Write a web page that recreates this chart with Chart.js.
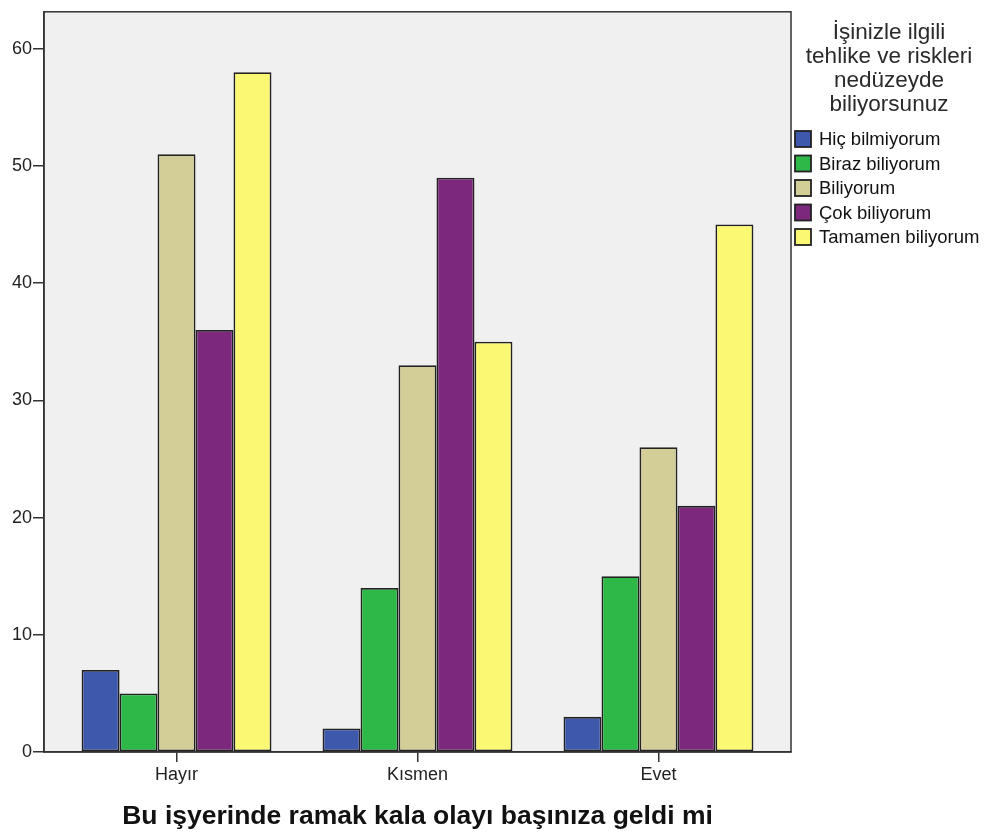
<!DOCTYPE html>
<html>
<head>
<meta charset="utf-8">
<script src="https://cdn.jsdelivr.net/npm/chart.js@4.4.1/dist/chart.umd.min.js"></script>
<style>
  html, body { margin: 0; padding: 0; background: #fff; }
  #chart { display: block; }
</style>
</head>
<body>
<canvas id="chart" width="988" height="836"></canvas>
<script>
/* grouped bar chart — SPSS style */

const categories  = ['Hayır', 'Kısmen', 'Evet'];
const seriesNames = ['Hiç bilmiyorum', 'Biraz biliyorum', 'Biliyorum', 'Çok biliyorum', 'Tamamen biliyorum'];
const hicBilmiyorum     = [7, 2, 3];
const birazBiliyorum    = [5, 14, 15];
const biliyorum         = [51, 33, 26];
const cokBiliyorum      = [36, 49, 21];
const tamamenBiliyorum  = [58, 35, 45];
const yTicks = [0, 10, 20, 30, 40, 50, 60];

const legendTitle = ['İşinizle ilgili', 'tehlike ve riskleri', 'nedüzeyde', 'biliyorsunuz'];
const xTitle = 'Bu işyerinde ramak kala olayı başınıza geldi mi';

const colors = ['#3e58ac', '#2eb848', '#d3ce97', '#7c287d', '#fbf873'];
const allSeries = [hicBilmiyorum, birazBiliyorum, biliyorum, cokBiliyorum, tamamenBiliyorum];
const FONT = '"Liberation Sans", Arial, sans-serif';

const datasets = allSeries.map((vals, s) => ({
  label: seriesNames[s],
  data: vals.map((v, i) => ({ x: i, y: v })),
  backgroundColor: colors[s],
  borderColor: '#222',
  borderWidth: 1.8,
  borderSkipped: false,
  categoryPercentage: 0.788,
  barPercentage: 1,
}));

const frame = {
  id: 'frame',
  beforeDraw(chart) {
    const { ctx, chartArea: a } = chart;
    ctx.save();
    ctx.fillStyle = '#f0f0f0';
    ctx.fillRect(a.left, a.top, a.right - a.left, a.bottom - a.top);
    ctx.restore();
  },
  afterDraw(chart) {
    const { ctx, chartArea: a } = chart;
    ctx.save();
    ctx.strokeStyle = '#333';
    ctx.lineWidth = 1.5;
    ctx.strokeRect(a.left, a.top, a.right - a.left, a.bottom - a.top);

    // legend, drawn by hand to sit right of the frame
    ctx.fillStyle = '#2a2a2a';
    ctx.font = '22.5px ' + FONT;
    ctx.textAlign = 'center';
    ctx.textBaseline = 'middle';
    legendTitle.forEach((t, i) => ctx.fillText(t, 889, 33 + i * 24));

    ctx.font = '18.5px ' + FONT;
    ctx.textAlign = 'left';
    chart.data.datasets.forEach((ds, i) => {
      const y = 139 + i * 24.5;
      ctx.fillStyle = ds.backgroundColor;
      ctx.fillRect(795, y - 8, 16, 16);
      ctx.strokeStyle = '#222';
      ctx.lineWidth = 1.8;
      ctx.strokeRect(795, y - 8, 16, 16);
      ctx.fillStyle = '#111';
      ctx.fillText(ds.label, 819, y + 1);
    });
    ctx.restore();
  },
};

new Chart(document.getElementById('chart'), {
  type: 'bar',
  data: { datasets },
  plugins: [frame],
  options: {
    responsive: false,
    animation: false,
    layout: { padding: { top: 10, right: 197, left: 0, bottom: 0 } },
    plugins: { legend: { display: false }, tooltip: { enabled: false } },
    scales: {
      x: {
        type: 'linear',
        offset: false,
        min: -0.55, max: 2.55,
        afterBuildTicks: s => { s.ticks = categories.map((c, i) => ({ value: i })); },
        afterFit: s => { s.height = 84; },
        grid: { display: true, offset: false, drawOnChartArea: false, drawTicks: true, tickLength: 10, color: '#333', lineWidth: 1.5 },
        border: { display: true, color: '#333', width: 1.5 },
        ticks: {
          color: '#222', padding: 2,
          font: { family: FONT, size: 18 },
          callback: v => categories[v] ?? '',
        },
        title: {
          display: true, text: xTitle, color: '#111',
          font: { family: FONT, size: 26.5, weight: 'bold' },
          padding: { top: 0, bottom: 3 },
        },
      },
      y: {
        min: 0, max: 63.15,
        afterBuildTicks: s => { s.ticks = yTicks.map(v => ({ value: v })); },
        afterFit: s => { s.width = 44; },
        grid: { display: true, drawOnChartArea: false, drawTicks: true, tickLength: 11, color: '#333', lineWidth: 1.5 },
        border: { display: true, color: '#333', width: 1.5 },
        ticks: {
          color: '#222', padding: 1,
          font: { family: FONT, size: 18 },
        },
      },
    },
  },
});
</script>
</body>
</html>
